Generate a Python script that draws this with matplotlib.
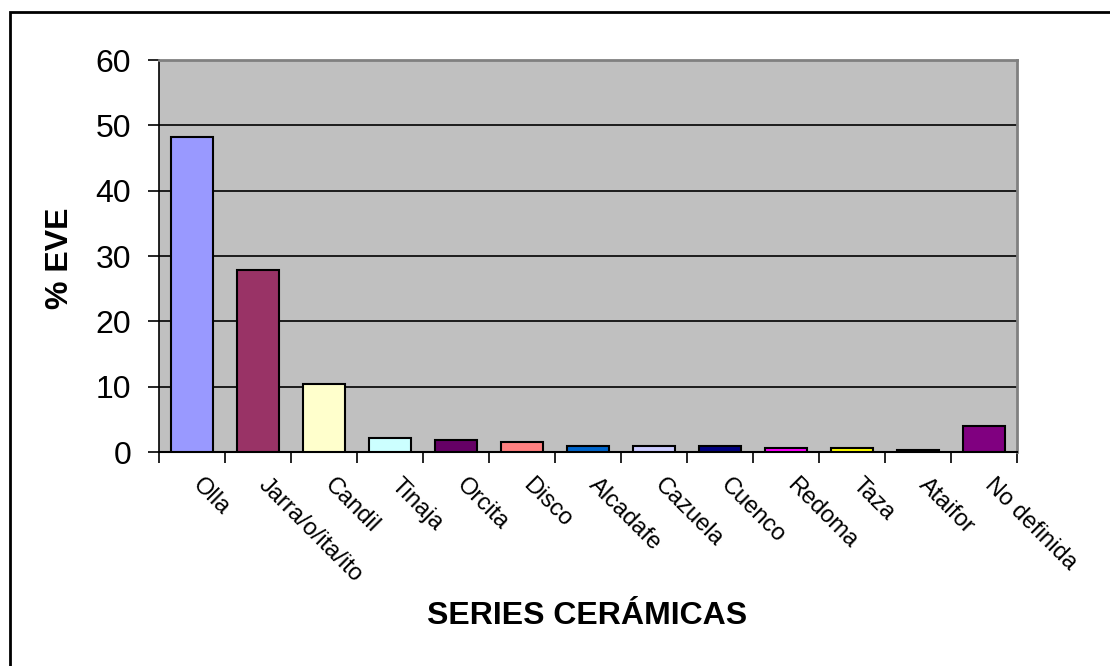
import matplotlib.pyplot as plt
from matplotlib.patches import Rectangle
from matplotlib.transforms import ScaledTranslation
import numpy as np

categories = ["Olla", "Jarra/o/ita/ito", "Candil", "Tinaja", "Orcita", "Disco",
              "Alcadafe", "Cazuela", "Cuenco", "Redoma", "Taza", "Ataifor",
              "No definida"]
values = [48.2, 27.9, 10.4, 2.2, 1.85, 1.55, 0.95, 0.95, 0.95, 0.65, 0.65, 0.3, 4.0]
colors = ["#9999FF", "#993366", "#FFFFCC", "#CCFFFF", "#660066", "#FF8080",
          "#0066CC", "#CCCCFF", "#000080", "#FF00FF", "#FFFF00", "#00FFFF",
          "#800080"]
y_ticks = [0, 10, 20, 30, 40, 50, 60]


def main():
    plt.rcParams["font.family"] = ["Liberation Sans", "DejaVu Sans"]

    fig = plt.figure(figsize=(11.1, 6.66), dpi=100)
    ax = fig.add_axes([159 / 1110, 1 - 452 / 666, (1017 - 159) / 1110, (452 - 60) / 666])

    # outer chart frame
    fig.patches.append(Rectangle((10 / 1110, -0.05), 1.2, 1 - 12 / 666 + 0.05,
                                 transform=fig.transFigure, fill=False,
                                 edgecolor="black", linewidth=2))

    ax.set_facecolor("#C0C0C0")
    x = np.arange(len(categories))
    ax.bar(x, values, width=0.65, color=colors, edgecolor="black", linewidth=1.5,
           zorder=3)

    ax.set_xlim(-0.5, len(categories) - 0.5)
    ax.set_ylim(0, 60)
    ax.set_yticks(y_ticks)
    ax.yaxis.grid(True, color="black", linewidth=1.2, zorder=1)
    ax.tick_params(axis="y", labelsize=23, length=8, width=1.2, direction="out",
                   pad=12)

    # ticks between categories, labels at centres
    ax.set_xticks(np.arange(len(categories) + 1) - 0.5, minor=True)
    ax.set_xticks(x)
    ax.set_xticklabels(categories, rotation=-45, ha="left", va="top",
                       rotation_mode="anchor", fontsize=17)
    ax.tick_params(axis="x", which="major", length=0, pad=16)
    ax.tick_params(axis="x", which="minor", length=8, width=1.2, direction="out")
    shift = ScaledTranslation(12 / 100, 0, fig.dpi_scale_trans)
    for lbl in ax.get_xticklabels():
        lbl.set_transform(lbl.get_transform() + shift)

    for side in ["top", "right"]:
        ax.spines[side].set_color("#808080")
        ax.spines[side].set_linewidth(2)
    ax.spines["left"].set_linewidth(1.2)
    ax.spines["bottom"].set_linewidth(1.5)

    fig.text(60 / 1110, 1 - 258 / 666, "% EVE", rotation=90, ha="center",
             va="center", fontsize=23, fontweight="bold")
    fig.text(587 / 1110, 1 - 616 / 666, "SERIES CERÁMICAS", ha="center",
             va="center", fontsize=23, fontweight="bold")

    fig.savefig("out.png", dpi=100)


if __name__ == "__main__":
    main()
